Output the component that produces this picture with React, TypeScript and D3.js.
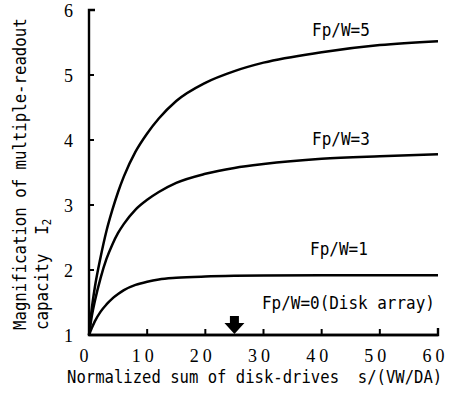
import React from 'react';
import * as d3 from 'd3';

// s/(VW/DA) sample points
const xs = [0, 0.5, 1, 2, 3, 4, 5, 6, 8, 10, 12, 15, 20, 25, 30, 40, 50, 60];
const fp5 = [1, 1.42, 1.73, 2.2, 2.6, 2.92, 3.2, 3.44, 3.82, 4.1, 4.33, 4.6, 4.88, 5.06, 5.19, 5.35, 5.46, 5.52];
const fp3 = [1, 1.3, 1.52, 1.88, 2.17, 2.39, 2.57, 2.71, 2.93, 3.08, 3.2, 3.34, 3.48, 3.57, 3.63, 3.71, 3.75, 3.78];
const fp1 = [1, 1.11, 1.21, 1.36, 1.47, 1.56, 1.63, 1.69, 1.77, 1.82, 1.855, 1.88, 1.9, 1.91, 1.915, 1.92, 1.92, 1.92];
const fp0 = [1, 1, 1, 1, 1, 1, 1, 1, 1, 1, 1, 1, 1, 1, 1, 1, 1, 1];

const xTicks = [0, 10, 20, 30, 40, 50, 60];
const yTicks = [1, 2, 3, 4, 5, 6];
const arrowAt = 25;

const W = 464;
const H = 394;

// monospace label, squeezed horizontally like the narrow original typeface
const Mono: React.FC<{ x: number; y: number; s: number; rot?: boolean; children: React.ReactNode }> = ({ x, y, s, rot, children }) => (
  <text
    transform={`translate(${x},${y})${rot ? ' rotate(-90)' : ''} scale(${s},1)`}
    fontFamily='"DejaVu Sans Mono", "Liberation Mono", monospace'
    fontSize={18}
    xmlSpace="preserve"
  >
    {children}
  </text>
);

const App: React.FC = () => {
  const x = d3.scaleLinear().domain([0, 60]).range([89, 438]);
  const y = d3.scaleLinear().domain([1, 6]).range([335, 10]);

  const line = d3.line<number>()
    .x((_, i) => x(xs[i]))
    .y(d => y(d))
    .curve(d3.curveMonotoneX);

  const series = [fp5, fp3, fp1, fp0];
  const serif = '"Liberation Serif", "DejaVu Serif", serif';

  const ax = x(arrowAt);
  const ay = y(1);

  return (
    <svg width={W} height={H} style={{ position: 'absolute', left: 0, top: 0, background: '#fff' }}>
      {/* axes */}
      <path d={`M${x(0) + 6},${y(6)} H${x(0)} V${y(1)} H${x(60)} V${y(1) - 7}`}
        fill="none" stroke="#000" strokeWidth={2.4} />
      {yTicks.slice(1, -1).map(t => (
        <line key={t} x1={x(0)} x2={x(0) + 5} y1={y(t)} y2={y(t)} stroke="#000" strokeWidth={2} />
      ))}
      {xTicks.slice(1, -1).map(t => (
        <line key={t} x1={x(t)} x2={x(t)} y1={y(1)} y2={y(1) - 6} stroke="#000" strokeWidth={2} />
      ))}

      {/* curves */}
      {series.map((s, i) => (
        <path key={i} d={line(s) || ''} fill="none" stroke="#000" strokeWidth={2.5} />
      ))}

      {/* arrow */}
      <path d={`M${ax - 4.5},${ay - 19} H${ax + 4.5} V${ay - 12} H${ax + 10} L${ax},${ay - 1} L${ax - 10},${ay - 12} H${ax - 4.5} Z`} fill="#000" />

      {/* tick labels */}
      {yTicks.map(t => (
        <text key={t} x={73} y={y(t) + 7} textAnchor="end" fontFamily={serif} fontSize={18}>{t}</text>
      ))}
      {xTicks.map(t => (
        <text key={t} x={x(t) - (t ? 2.5 : 5)} y={362} textAnchor="middle" fontFamily={serif} fontSize={18} letterSpacing={t ? 4 : 0}>{t}</text>
      ))}

      {/* curve labels */}
      <Mono x={312} y={36} s={0.89}>Fp/W=5</Mono>
      <Mono x={312} y={145} s={0.89}>Fp/W=3</Mono>
      <Mono x={310} y={255} s={0.89}>Fp/W=1</Mono>
      <Mono x={262} y={309} s={0.887}>Fp/W=0(Disk array)</Mono>

      {/* axis titles */}
      <Mono x={67} y={383} s={0.866}>Normalized sum of disk-drives  s/(VW/DA)</Mono>
      <Mono x={26} y={330} s={0.872} rot>Magnification of multiple-readout</Mono>
      <Mono x={48} y={330} s={0.88} rot>capacity  I<tspan fontSize={12} dy={3}>2</tspan></Mono>
    </svg>
  );
};

export default App;
